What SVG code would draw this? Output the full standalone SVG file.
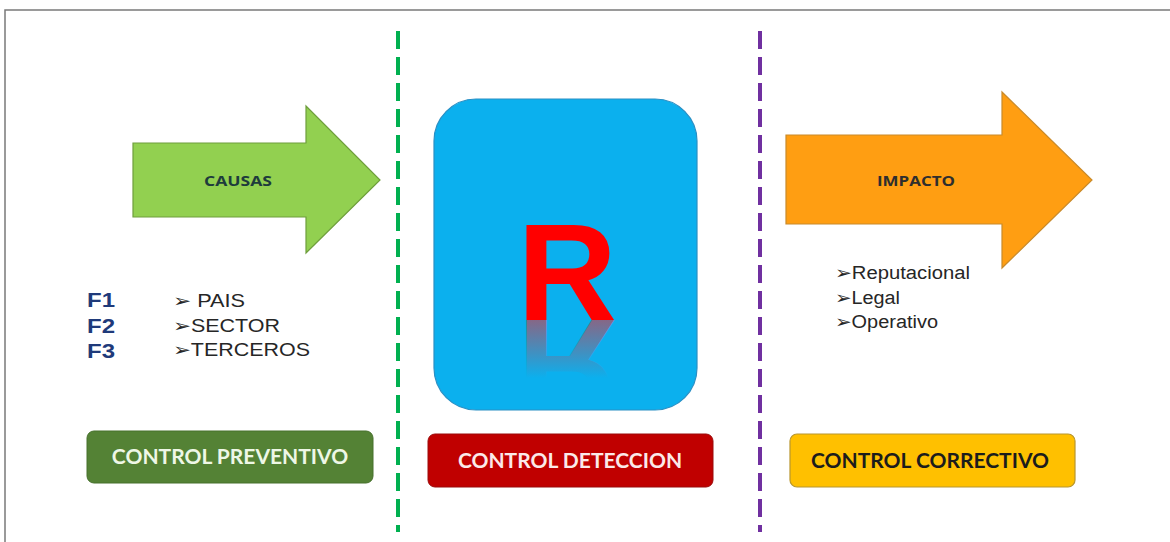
<svg xmlns="http://www.w3.org/2000/svg" xmlns:xlink="http://www.w3.org/1999/xlink" width="1170" height="542" viewBox="0 0 1170 542">
<defs>
<style>
.frame{stroke:#7a7a7a;stroke-width:1.5;fill:none}
.arrowlbl{font-family:"Open Sans","Liberation Sans",sans-serif;font-weight:bold;font-size:15px}
.fx{font-family:"Liberation Sans",Arial,sans-serif;font-weight:bold;font-size:21px;fill:#1F3A7A}
.item{font-family:"Liberation Sans",Arial,sans-serif;font-size:18px;fill:#262626}
.btn{font-family:"Lato","Open Sans",sans-serif;font-weight:bold;font-size:21px;text-anchor:middle}
.sep{stroke-width:4;stroke-dasharray:18 8;fill:none}
.rl{font-family:"Liberation Sans",Arial,sans-serif;font-weight:bold;font-size:138px}
</style>
<linearGradient id="refl" gradientUnits="userSpaceOnUse" x1="0" y1="320" x2="0" y2="262">
<stop offset="0" stop-color="#C8404F" stop-opacity="0.65"/>
<stop offset="1" stop-color="#C8404F" stop-opacity="0"/>
</linearGradient>
</defs>
<rect width="1170" height="542" fill="#ffffff"/>
<path class="frame" d="M5,542 V10 H1170"/>
<g id="connectors">
<line class="sep" x1="398" y1="31" x2="398" y2="532" stroke="#00B050"/>
<line class="sep" x1="760" y1="31" x2="760" y2="532" stroke="#7030A0"/>
</g>
<g id="causas">
<polygon points="133,143 306,143 306,106 380,180 306,253 306,217 133,217" fill="#92D050" stroke="#6E9E3C" stroke-width="1.2"/>
<text class="arrowlbl" x="204" y="186" fill="#1E3C3C" textLength="68" lengthAdjust="spacingAndGlyphs">CAUSAS</text>
</g>
<g id="factores">
<text class="fx" x="87" y="307" textLength="28" lengthAdjust="spacingAndGlyphs">F1</text>
<text class="fx" x="87" y="333" textLength="28" lengthAdjust="spacingAndGlyphs">F2</text>
<text class="fx" x="87" y="358" textLength="28" lengthAdjust="spacingAndGlyphs">F3</text>
<text class="item" x="173" y="307" textLength="72" lengthAdjust="spacingAndGlyphs">➢ PAIS</text>
<text class="item" x="173" y="332" textLength="107" lengthAdjust="spacingAndGlyphs">➢SECTOR</text>
<text class="item" x="173" y="356" textLength="137" lengthAdjust="spacingAndGlyphs">➢TERCEROS</text>
</g>
<g id="riesgo">
<rect x="434" y="99" width="263" height="311" rx="42" fill="#0BB0EE" stroke="#2A8FC4" stroke-width="1.2"/>
<g fill="#FF0000">
<text id="rtext" class="rl" x="567" y="320" text-anchor="middle">R</text>
</g>
<use xlink:href="#rtext" href="#rtext" transform="translate(0,640) scale(1,-1)" fill="url(#refl)"/>
</g>
<g id="impacto">
<polygon points="786,135 1002,135 1002,92 1092,180 1002,268 1002,224 786,224" fill="#FF9E12" stroke="#C98A2A" stroke-width="1.2"/>
<text class="arrowlbl" x="877" y="186" fill="#2E2E2E" textLength="78" lengthAdjust="spacingAndGlyphs">IMPACTO</text>
</g>
<g id="impactos">
<text class="item" x="835" y="279" textLength="135" lengthAdjust="spacingAndGlyphs">➢Reputacional</text>
<text class="item" x="835" y="304" textLength="65" lengthAdjust="spacingAndGlyphs">➢Legal</text>
<text class="item" x="835" y="328" textLength="103" lengthAdjust="spacingAndGlyphs">➢Operativo</text>
</g>
<g id="preventivo">
<rect x="87" y="431" width="286" height="52" rx="7" fill="#548235" stroke="#46702C" stroke-width="1"/>
<text class="btn" x="230" y="464" fill="#EEF7E6">CONTROL PREVENTIVO</text>
</g>
<g id="deteccion">
<rect x="428" y="434" width="285" height="53" rx="7" fill="#C00000" stroke="#9A0A0A" stroke-width="1"/>
<text class="btn" x="570" y="468" fill="#FBE9E9">CONTROL DETECCION</text>
</g>
<g id="correctivo">
<rect x="790" y="434" width="285" height="53" rx="7" fill="#FFC000" stroke="#B8962E" stroke-width="1.2"/>
<text class="btn" x="930" y="468" fill="#1C1C1C">CONTROL CORRECTIVO</text>
</g>
</svg>
